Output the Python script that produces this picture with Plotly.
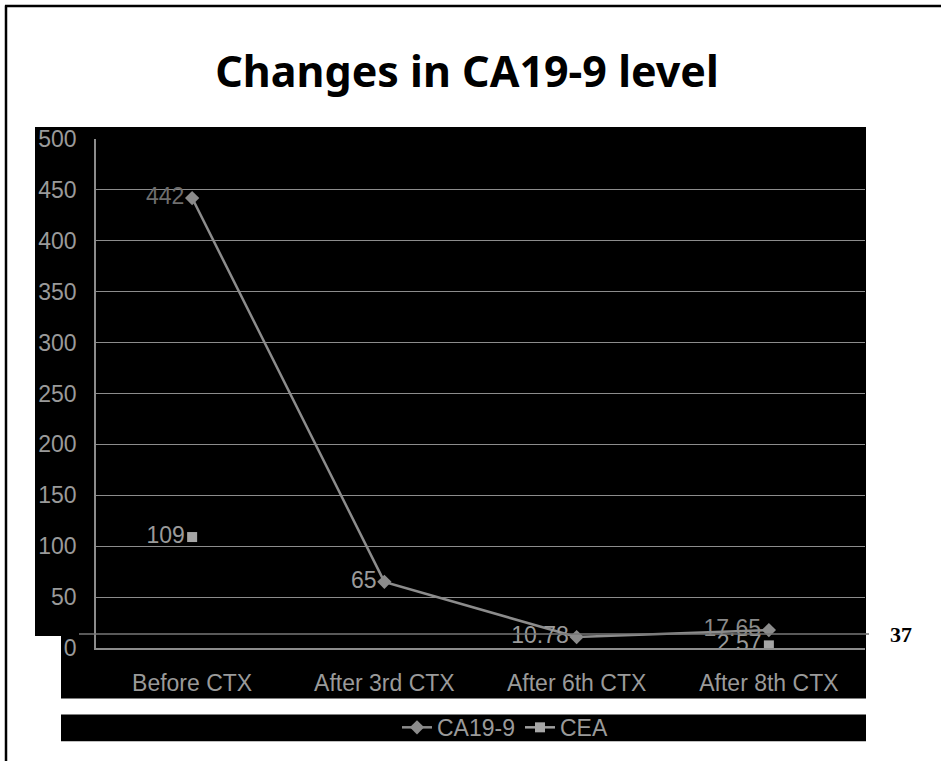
import plotly.graph_objects as go

categories = ["Before CTX", "After 3rd CTX", "After 6th CTX", "After 8th CTX"]
ca199 = [442, 65, 10.78, 17.65]
cea = [109, None, None, 2.57]
ca199_labels = ["442", "65", "10.78", "17.65"]
cea_labels = ["109", "", "", "2.57"]
y_ticks = [0, 50, 100, 150, 200, 250, 300, 350, 400, 450, 500]

W, H = 941, 761
L, R, T, B = 96, 865, 139, 652


def px(x):
    return (x - L) / (R - L)


def py(y):
    return (B - y) / (B - T)


fig = go.Figure()
fig.add_trace(go.Scatter(
    x=categories, y=ca199, name="CA19-9", mode="lines+markers+text",
    line=dict(color="#8c8c8c", width=2.5),
    marker=dict(symbol="diamond", size=11, color="#8c8c8c"),
    text=ca199_labels, textposition="middle left",
    textfont=dict(family="Liberation Sans", size=23, color=["#6e6e6e", "#9a9a9a", "#9a9a9a", "#8a8a8a"]),
))
fig.add_trace(go.Scatter(
    x=categories, y=cea, name="CEA", mode="lines+markers+text",
    line=dict(color="#a0a0a0", width=2.5), connectgaps=False,
    marker=dict(symbol="square", size=10, color="#a6a6a6"),
    text=cea_labels, textposition="middle left",
    textfont=dict(family="Liberation Sans", size=23, color="#9a9a9a"),
))

shapes = [
    # black panels
    dict(type="rect", xref="paper", yref="paper", x0=px(35), x1=px(866), y0=py(127), y1=py(640),
         fillcolor="black", line=dict(width=0), layer="below"),
    dict(type="rect", xref="paper", yref="paper", x0=px(61), x1=px(866), y0=py(637), y1=py(703),
         fillcolor="black", line=dict(width=0), layer="below"),
    dict(type="rect", xref="paper", yref="paper", x0=px(61), x1=px(866), y0=py(719), y1=py(746),
         fillcolor="black", line=dict(width=0), layer="below"),
    # page frame
    dict(type="line", xref="paper", yref="paper", x0=px(6), x1=px(6), y0=py(4.5), y1=py(770),
         line=dict(color="black", width=2.5)),
    dict(type="line", xref="paper", yref="paper", x0=px(5), x1=px(950), y0=py(5), y1=py(5),
         line=dict(color="black", width=2.5)),
    # stray horizontal rule
    dict(type="line", xref="paper", yref="paper", x0=px(79), x1=px(869), y0=py(638), y1=py(638),
         line=dict(color="#777777", width=1.5)),
]

fig.update_layout(
    width=W, height=H,
    margin=dict(l=L, r=W - R, t=T, b=H - B, pad=0),
    paper_bgcolor="white", plot_bgcolor="black",
    title=dict(text="<b>Changes in CA19-9 level</b>", x=467 / W, xanchor="center",
               y=1 - 72 / H, yanchor="middle",
               font=dict(family="Noto Sans", size=43, color="black")),
    shapes=shapes,
    showlegend=True,
    legend=dict(orientation="h", x=px(505), y=py(732), xanchor="center", yanchor="middle",
                bgcolor="rgba(0,0,0,0)", font=dict(family="Liberation Sans", size=23, color="#9a9a9a"),
                itemwidth=30, tracegroupgap=0),
    annotations=[dict(text="<b>37</b>", xref="paper", yref="paper", x=px(901), y=py(638),
                      xanchor="center", yanchor="middle", showarrow=False,
                      font=dict(family="Liberation Serif", size=22, color="black"))],
)
fig.update_xaxes(
    range=[-0.5, 3.5],
    showgrid=False, showline=True, linecolor="#8c8c8c", linewidth=1.5,
    tickfont=dict(family="Liberation Sans", size=23, color="#9a9a9a"),
    ticklabelstandoff=14, zeroline=False,
)
fig.update_yaxes(
    range=[0, 500], tickvals=y_ticks, showgrid=True, gridcolor="#8c8c8c", gridwidth=1.2,
    showline=True, linecolor="#8c8c8c", linewidth=1.5, zeroline=False,
    tickfont=dict(family="Liberation Sans", size=23, color="#9a9a9a"),
    ticklabelstandoff=13,
)

fig.write_html("out.html", config={"displayModeBar": False},
               post_script="document.body.style.margin='0';document.body.style.overflow='hidden';")
